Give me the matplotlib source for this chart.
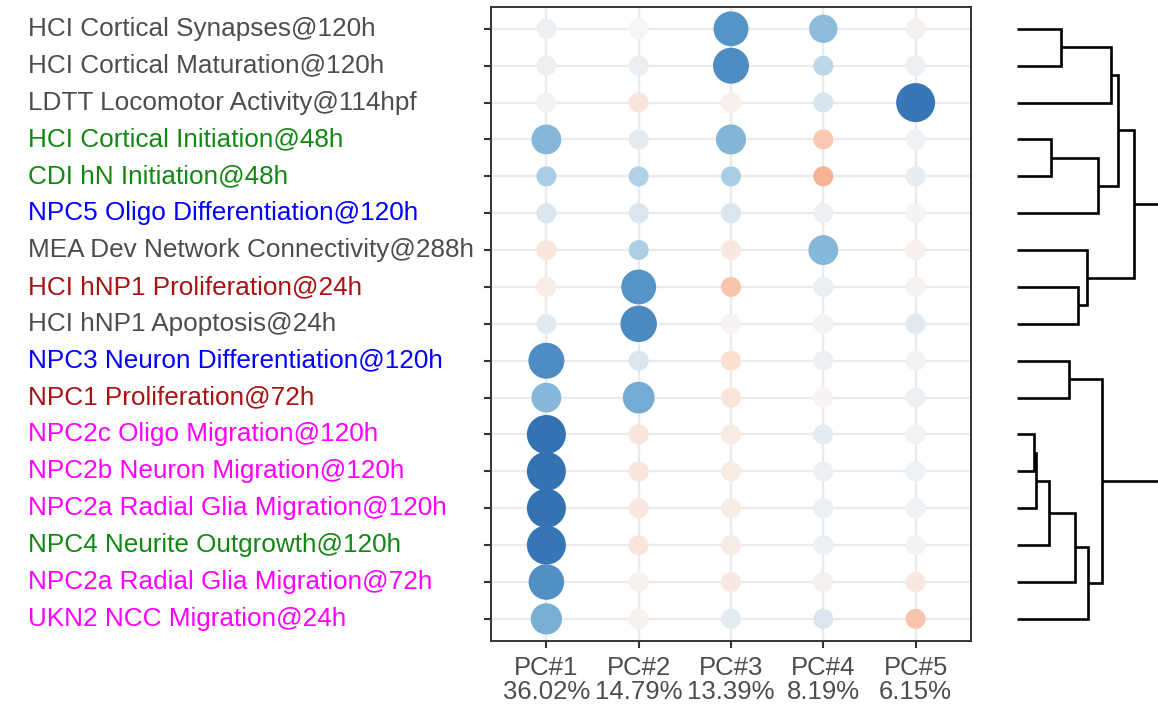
import numpy as np
import matplotlib
matplotlib.use("Agg")
import matplotlib.pyplot as plt
from matplotlib.colors import LinearSegmentedColormap, Normalize
from matplotlib import transforms

plt.rcParams['font.family'] = ['Liberation Sans', 'DejaVu Sans']

# assays, top to bottom
assays = [
    "HCI Cortical Synapses@120h",
    "HCI Cortical Maturation@120h",
    "LDTT Locomotor Activity@114hpf",
    "HCI Cortical Initiation@48h",
    "CDI hN Initiation@48h",
    "NPC5 Oligo Differentiation@120h",
    "MEA Dev Network Connectivity@288h",
    "HCI hNP1 Proliferation@24h",
    "HCI hNP1 Apoptosis@24h",
    "NPC3 Neuron Differentiation@120h",
    "NPC1 Proliferation@72h",
    "NPC2c Oligo Migration@120h",
    "NPC2b Neuron Migration@120h",
    "NPC2a Radial Glia Migration@120h",
    "NPC4 Neurite Outgrowth@120h",
    "NPC2a Radial Glia Migration@72h",
    "UKN2 NCC Migration@24h",
]
assay_colors = [
    "#4d4d4d", "#4d4d4d", "#4d4d4d", "#118811", "#118811", "#0000ff",
    "#4d4d4d", "#aa1111", "#4d4d4d", "#0000ff", "#aa1111", "#ff00ff",
    "#ff00ff", "#ff00ff", "#118811", "#ff00ff", "#ff00ff",
]

pcs = ["PC#1", "PC#2", "PC#3", "PC#4", "PC#5"]
explained = ["36.02%", "14.79%", "13.39%", "8.19%", "6.15%"]

# loadings, one list per PC (rows in assay order)
pc1 = [0.04, 0.04, 0.01, 0.55, 0.35, 0.13, -0.15, -0.09, 0.10, 0.80, 0.55, 0.98, 0.98, 0.98, 0.96, 0.78, 0.60]
pc2 = [0.00, 0.06, -0.15, 0.09, 0.32, 0.13, 0.33, 0.75, 0.82, 0.13, 0.62, -0.15, -0.15, -0.12, -0.15, -0.03, -0.03]
pc3 = [0.75, 0.80, -0.06, 0.56, 0.35, 0.13, -0.12, -0.33, -0.02, -0.20, -0.15, -0.10, -0.10, -0.10, -0.10, -0.12, 0.08]
pc4 = [0.50, 0.25, 0.14, -0.32, -0.42, 0.04, 0.55, 0.06, 0.02, 0.04, -0.02, 0.08, 0.04, 0.04, 0.04, -0.04, 0.13]
pc5 = [-0.04, 0.04, 0.95, 0.03, 0.07, -0.01, -0.05, -0.03, 0.10, 0.01, 0.04, 0.01, 0.03, 0.03, -0.01, -0.12, -0.33]

# dendrogram linkage: (left, right, height); leaves 0..16, clusters from 17
linkage = [
    (0, 1, 43.7), (17, 2, 93.7), (3, 4, 34.0), (19, 5, 80.7), (18, 20, 101.3),
    (7, 8, 61.3), (6, 22, 70.3), (21, 23, 117.3),
    (9, 10, 52.3), (11, 12, 17.3), (26, 13, 19.0), (27, 14, 31.7), (28, 15, 58.0),
    (29, 16, 70.7), (25, 30, 84.7), (24, 31, 160.0),
]

loadings = np.array([pc1, pc2, pc3, pc4, pc5])  # (5, 17)
n_rows = len(assays)

cmap = LinearSegmentedColormap.from_list("pcload", [
    (0.0, "#d6604d"), (0.275, "#f4ad8a"), (0.4, "#fbe0d2"), (0.5, "#f5f5f5"),
    (0.675, "#a9cde4"), (0.775, "#85b7d8"), (0.89, "#5090c5"), (1.0, "#3270b1"),
])
norm = Normalize(-1, 1)

W, H, DPI = 1158, 707, 100
fig = plt.figure(figsize=(W / DPI, H / DPI), dpi=DPI)

ax = fig.add_axes([491 / W, 1 - 641 / H, 480 / W, (641 - 6.7) / H])

xs, ys, vals = [], [], []
for j in range(len(pcs)):
    for i in range(n_rows):
        xs.append(j + 1)
        ys.append(i + 1)
        vals.append(loadings[j, i])
vals = np.array(vals)

# diameter in px: small floor, grows with positive loading
diam = 20 + 19 * np.clip((vals - 0.35) / 0.6, 0, 1) ** 0.6
sizes = (diam * 72 / DPI) ** 2

ax.scatter(xs, ys, s=sizes, c=cmap(norm(vals)), edgecolors='none', zorder=3)

ax.set_xlim(0.4, len(pcs) + 0.6)
ax.set_ylim(n_rows + 0.6, 0.4)
ax.set_xticks(range(1, len(pcs) + 1))
ax.set_xticklabels([f"{p}\n{e}" for p, e in zip(pcs, explained)],
                   fontsize=18.5, color="#4d4d4d", linespacing=1.0)
ax.set_yticks(range(1, n_rows + 1))
ax.set_yticklabels([])
ax.grid(True, color="#ebebeb", linewidth=1.7, zorder=0)
ax.set_axisbelow(True)
for sp in ax.spines.values():
    sp.set_color("#333333")
    sp.set_linewidth(1.4)
ax.tick_params(axis='both', length=5, width=1.5, color="#333333")
ax.tick_params(axis='x', pad=6)

# left-aligned assay labels
trans = transforms.blended_transform_factory(fig.transFigure, ax.transData)
for i, (name, col) in enumerate(zip(assays, assay_colors)):
    ax.text(28 / W, i + 1, name, transform=trans, ha='left', va='center',
            fontsize=18.8, color=col, clip_on=False)

# dendrogram
dax = fig.add_axes([1017 / W, 1 - 641 / H, (W - 1017) / W, (641 - 6.7) / H])
dax.set_ylim(n_rows + 0.6, 0.4)
dax.set_xlim(0, W - 1017)
dax.axis('off')
pos = {i: (0.0, i + 1.0) for i in range(n_rows)}
for k, (a, b, h) in enumerate(linkage):
    xa, ya = pos[a]
    xb, yb = pos[b]
    dax.plot([xa, h, h, xb], [ya, ya, yb, yb], color='black', linewidth=1.9,
             solid_joinstyle='miter', solid_capstyle='butt')
    pos[n_rows + k] = (h, (ya + yb) / 2)

fig.savefig("out.png", dpi=DPI)
